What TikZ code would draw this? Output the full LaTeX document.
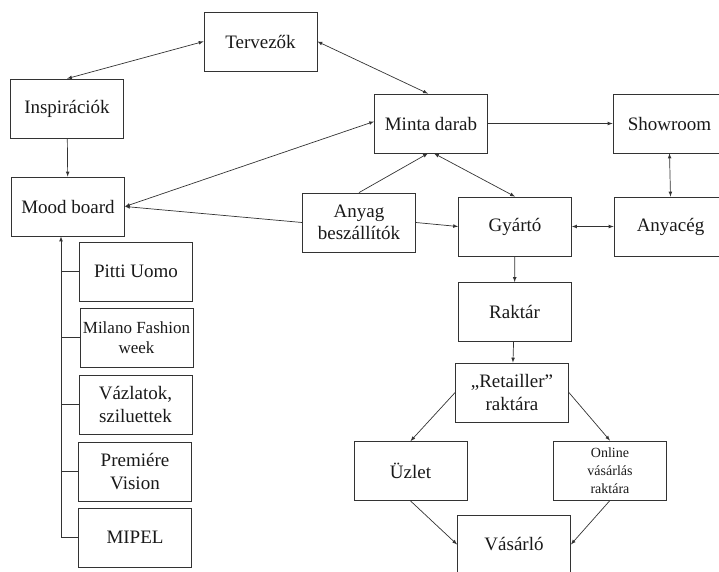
\documentclass[tikz,border=0pt]{standalone}
\usepackage{fontspec}
\setmainfont{Liberation Serif}
\newfontfamily\boxfont{Liberation Serif}
\usepackage{tikz}
\tikzset{%
  box/.style = {shape=rectangle, draw=black!80, line width=0.8pt,
    align=center, inner sep=0pt,
    minimum width=113pt, minimum height=59pt,
    font=\boxfont\fontsize{19}{22.5}\selectfont, text=black!90},
  small/.style = {font=\boxfont\fontsize{17}{20}\selectfont},
  tiny/.style = {font=\boxfont\fontsize{14}{18}\selectfont},
  link/.style = {draw=black!80, line width=0.7pt, -latex},
  both/.style = {link, latex-latex}
}
\begin{document}
\begin{tikzpicture}[x=1pt,y=-1pt]
  \useasboundingbox (0,0) rectangle (719,571);
  % top and right part
  \node[box] (tervezok) at (260.5,41.5) {Tervezők};
  \node[box] (inspiracio) at (67,108.5) {Inspirációk};
  \node[box] (mood) at (68,206.5) {Mood board};
  \node[box] (minta) at (431,123.5) {Minta darab};
  \node[box] (showroom) at (669.5,123.5) {Showroom};
  \node[box] (anyag) at (359,222.5) {Anyag\\beszállítók};
  \node[box] (gyarto) at (515,226.5) {Gyártó};
  \node[box] (anyaceg) at (670.5,226.5) {Anyacég};
  \node[box] (raktar) at (514.5,312) {Raktár};
  \node[box] (retail) at (512,392.5) {„Retailler”\\raktára};
  \node[box] (uzlet) at (410.5,471) {Üzlet};
  \node[box, tiny] (online) at (610,470.5) {Online\\vásárlás\\raktára};
  \node[box] (vasarlo) at (514,544.5) {Vásárló};
  % left column
  \node[box] (pitti) at (136,271.5) {Pitti Uomo};
  \node[box, small] (milano) at (136.5,337.5) {Milano Fashion\\week};
  \node[box] (vazlat) at (135.5,404.5) {Vázlatok,\\sziluettek};
  \node[box] (premiere) at (135,471.5) {Premiére\\Vision};
  \node[box] (mipel) at (135,537.5) {MIPEL};
  \coordinate (trunk) at (61,538);

  \draw[both] (inspiracio.north) -- (tervezok.west);
  \draw[both] (tervezok.east) -- ([xshift=-3pt]minta.north);
  \draw[link] (inspiracio) -- (mood);
  \draw[both] (mood.east) -- ([yshift=2pt]minta.west);
  \draw[link] (anyag.west) -- (mood.east);
  \draw[link] (anyag.north) -- ([xshift=-3pt]minta.south);
  \draw[both] ([xshift=3pt]minta.south) -- (gyarto.north);
  \draw[link] (minta) -- (showroom);
  \draw[both] (showroom.south) -- (anyaceg.north);
  \draw[both] (gyarto) -- (anyaceg);
  \draw[link] (anyag.east) -- (gyarto.west);
  \draw[link] (gyarto) -- (raktar);
  \draw[link] (raktar) -- (retail);
  \draw[link] (retail.west) -- (uzlet.north);
  \draw[link] (retail.east) -- (online.north);
  \draw[link] (uzlet.south) -- (vasarlo.west);
  \draw[link] (online.south) -- (vasarlo.east);

  \draw[link] (mipel.west) -- (mipel.west -| trunk) -- (trunk |- mood.south);
  \foreach \n in {pitti,milano,vazlat,premiere}
    \draw[draw=black!80, line width=0.7pt] (\n.west) -- (\n.west -| trunk);
\end{tikzpicture}
\end{document}
